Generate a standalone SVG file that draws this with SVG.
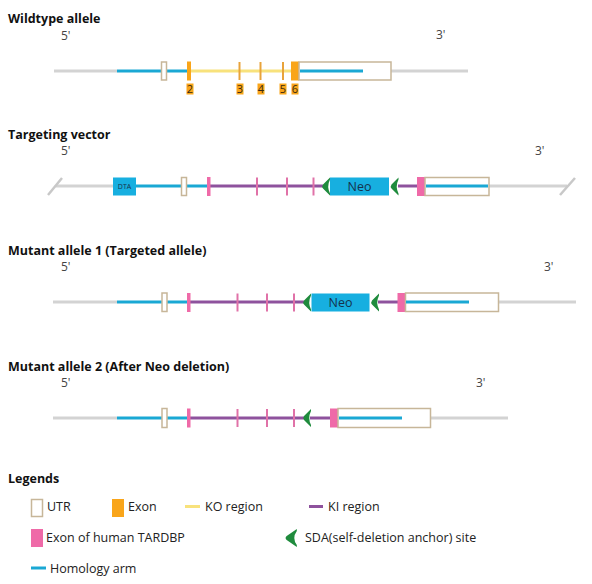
<svg xmlns="http://www.w3.org/2000/svg" width="592" height="584" viewBox="0 0 592 584">
<style>
text{font-family:"Open Sans","Noto Sans","Liberation Sans",sans-serif;}
.title{font-size:12.5px;font-weight:bold;fill:#111;}
.end{font-size:12px;fill:#444;}
.lg{font-size:12.5px;fill:#222;}
.gray{stroke:#d3d3d3;stroke-width:3;fill:none;}
.blue{stroke:#1aa8d4;stroke-width:3;fill:none;}
.yel{stroke:#f8e27c;stroke-width:3;fill:none;}
.pur{stroke:#8e529d;stroke-width:3;fill:none;}
.utr{fill:#fff;stroke:#c7b699;stroke-width:1.5;}
.exon{fill:#f9a51a;}
.tick{stroke:#e8a33a;stroke-width:2;}
.pink{fill:#ef6aa8;}
.ptick{stroke:#e072a8;stroke-width:2;}
.sda{fill:#1f8b3d;}
.neo{fill:#17afe0;}
.lab{font-size:11px;fill:#3a2a10;}
.neot{font-size:12.5px;fill:#15324d;}
</style>
<defs>
<path id="chev" d="M8.5,0 L1.5,7 Q0,9 1.5,11 L8.5,18 L8.5,16 Q5,9 8.5,2 Z"/>
</defs>

<!-- Titles -->
<g id="titles">
<text class="title" x="8" y="23">Wildtype allele</text>
<text class="end" x="61" y="40">5'</text>
<text class="end" x="436" y="39">3'</text>
<text class="title" x="8" y="139">Targeting vector</text>
<text class="end" x="61" y="155">5'</text>
<text class="end" x="535" y="155">3'</text>
<text class="title" x="8" y="255">Mutant allele 1 (Targeted allele)</text>
<text class="end" x="61" y="271">5'</text>
<text class="end" x="544" y="271">3'</text>
<text class="title" x="8" y="371">Mutant allele 2 (After Neo deletion)</text>
<text class="end" x="61" y="387">5'</text>
<text class="end" x="476" y="387">3'</text>
</g>

<!-- Connectors: backbone lines -->
<g id="connectors">
<!-- wildtype -->
<line class="gray" x1="54" y1="71" x2="117" y2="71"/>
<line class="blue" x1="117" y1="71" x2="188" y2="71"/>
<line class="yel" x1="190" y1="71" x2="292" y2="71"/>
<line class="gray" x1="362" y1="71" x2="468" y2="71"/>
<line class="blue" x1="299" y1="71" x2="363" y2="71"/>
<!-- vector -->
<line class="gray" x1="56" y1="186" x2="113" y2="186"/>
<line class="blue" x1="136" y1="186" x2="207" y2="186"/>
<line class="pur" x1="210" y1="186" x2="323" y2="186"/>
<line class="pur" x1="398" y1="186" x2="417" y2="186"/>
<line class="gray" x1="489" y1="186" x2="567" y2="186"/>
<line class="blue" x1="425" y1="186" x2="489" y2="186"/>
<!-- mutant 1 -->
<line class="gray" x1="53" y1="302" x2="117" y2="302"/>
<line class="blue" x1="117" y1="302" x2="187" y2="302"/>
<line class="pur" x1="190" y1="302" x2="304" y2="302"/>
<line class="pur" x1="378" y1="302" x2="398" y2="302"/>
<line class="gray" x1="469" y1="302" x2="576" y2="302"/>
<line class="blue" x1="405" y1="302" x2="469" y2="302"/>
<!-- mutant 2 -->
<line class="gray" x1="53" y1="418" x2="117" y2="418"/>
<line class="blue" x1="117" y1="418" x2="187" y2="418"/>
<line class="pur" x1="190" y1="418" x2="304" y2="418"/>
<line class="pur" x1="310" y1="418" x2="331" y2="418"/>
<line class="gray" x1="402" y1="418" x2="508" y2="418"/>
<line class="blue" x1="337" y1="418" x2="402" y2="418"/>
</g>

<!-- Wildtype nodes -->
<g id="wt-utr5"><rect class="utr" x="161.5" y="62" width="5" height="18"/></g>
<g id="wt-exon2"><rect class="exon" x="187" y="61.5" width="4" height="19"/>
<rect class="exon" x="186.5" y="83.5" width="7" height="11"/><text class="lab" x="190" y="93" text-anchor="middle">2</text></g>
<g id="wt-exon3"><line class="tick" x1="239.5" y1="62" x2="239.5" y2="80"/>
<rect class="exon" x="236.5" y="83.5" width="7" height="11"/><text class="lab" x="240" y="93" text-anchor="middle">3</text></g>
<g id="wt-exon4"><line class="tick" x1="260.5" y1="62" x2="260.5" y2="80"/>
<rect class="exon" x="257.5" y="83.5" width="7" height="11"/><text class="lab" x="261" y="93" text-anchor="middle">4</text></g>
<g id="wt-exon5"><line class="tick" x1="283" y1="62" x2="283" y2="80"/>
<rect class="exon" x="279.5" y="83.5" width="7" height="11"/><text class="lab" x="283" y="93" text-anchor="middle">5</text></g>
<g id="wt-exon6"><rect class="exon" x="291" y="61.5" width="8" height="19"/>
<rect class="exon" x="291.5" y="83.5" width="7" height="11"/><text class="lab" x="295" y="93" text-anchor="middle">6</text></g>
<g id="wt-utr3"><rect class="utr" x="299" y="62" width="92" height="18"/><line class="blue" x1="300" y1="71" x2="363" y2="71"/></g>

<!-- Targeting vector nodes -->
<g id="tv-break-l"><line x1="48" y1="195" x2="62" y2="178" stroke="#c8c8c8" stroke-width="2.5"/></g>
<g id="tv-dta"><rect class="neo" x="113" y="177.5" width="23" height="18"/><text x="124.5" y="189" font-size="7px" fill="#15324d" text-anchor="middle">DTA</text></g>
<g id="tv-utr5"><rect class="utr" x="181.5" y="177.5" width="5" height="18"/></g>
<g id="tv-hexon1"><rect class="pink" x="207" y="177" width="3.5" height="19"/></g>
<g id="tv-hexon2"><line class="ptick" x1="257" y1="177.5" x2="257" y2="195.5"/></g>
<g id="tv-hexon3"><line class="ptick" x1="287" y1="177.5" x2="287" y2="195.5"/></g>
<g id="tv-hexon4"><line class="ptick" x1="313.5" y1="177.5" x2="313.5" y2="195.5"/></g>
<g id="tv-sda1"><use href="#chev" class="sda" x="321.5" y="177.5"/></g>
<g id="tv-neo"><rect class="neo" x="330" y="177.5" width="59" height="18"/><text class="neot" x="359.5" y="190.5" text-anchor="middle">Neo</text></g>
<g id="tv-sda2"><use href="#chev" class="sda" x="390" y="177.5"/></g>
<g id="tv-hexon5"><rect class="pink" x="417" y="177" width="8" height="19"/></g>
<g id="tv-utr3"><rect class="utr" x="425" y="177.5" width="64" height="18"/><line class="blue" x1="426" y1="186" x2="488" y2="186"/></g>
<g id="tv-break-r"><line x1="560" y1="195" x2="575" y2="178" stroke="#c8c8c8" stroke-width="2.5"/></g>

<!-- Mutant allele 1 nodes -->
<g id="m1-utr5"><rect class="utr" x="162" y="293" width="5" height="18.5"/></g>
<g id="m1-hexon1"><rect class="pink" x="187" y="293" width="3.5" height="19"/></g>
<g id="m1-hexon2"><line class="ptick" x1="237.5" y1="293.5" x2="237.5" y2="311.5"/></g>
<g id="m1-hexon3"><line class="ptick" x1="267" y1="293.5" x2="267" y2="311.5"/></g>
<g id="m1-hexon4"><line class="ptick" x1="294" y1="293.5" x2="294" y2="311.5"/></g>
<g id="m1-sda1"><use href="#chev" class="sda" x="302.5" y="293.5"/></g>
<g id="m1-neo"><rect class="neo" x="311.5" y="293.5" width="58" height="18"/><text class="neot" x="340.5" y="306.5" text-anchor="middle">Neo</text></g>
<g id="m1-sda2"><use href="#chev" class="sda" x="370.5" y="293.5"/></g>
<g id="m1-hexon5"><rect class="pink" x="397.5" y="293" width="8" height="19"/></g>
<g id="m1-utr3"><rect class="utr" x="405.5" y="293" width="93" height="18.5"/><line class="blue" x1="406" y1="302" x2="469" y2="302"/></g>

<!-- Mutant allele 2 nodes -->
<g id="m2-utr5"><rect class="utr" x="162" y="408.5" width="5" height="19"/></g>
<g id="m2-hexon1"><rect class="pink" x="187" y="408.5" width="3.5" height="19"/></g>
<g id="m2-hexon2"><line class="ptick" x1="237.5" y1="409" x2="237.5" y2="427"/></g>
<g id="m2-hexon3"><line class="ptick" x1="267" y1="409" x2="267" y2="427"/></g>
<g id="m2-hexon4"><line class="ptick" x1="294" y1="409" x2="294" y2="427"/></g>
<g id="m2-sda"><use href="#chev" class="sda" x="302.5" y="409"/></g>
<g id="m2-hexon5"><rect class="pink" x="330" y="408.5" width="8" height="19"/></g>
<g id="m2-utr3"><rect class="utr" x="338" y="408.5" width="92.5" height="19"/><line class="blue" x1="339" y1="418" x2="402" y2="418"/></g>

<!-- Legend -->
<g id="legend">
<text class="title" x="8" y="483">Legends</text>
<rect class="utr" x="31.5" y="499.5" width="11" height="17"/>
<text class="lg" x="47" y="511">UTR</text>
<rect class="exon" x="112" y="499" width="12" height="18"/>
<text class="lg" x="128" y="511">Exon</text>
<line class="yel" x1="185" y1="506.5" x2="200" y2="506.5"/>
<text class="lg" x="205" y="511">KO region</text>
<line class="pur" x1="309" y1="506.5" x2="323" y2="506.5"/>
<text class="lg" x="328" y="511">KI region</text>
<rect class="pink" x="31" y="529" width="12" height="18"/>
<text class="lg" x="46" y="542">Exon of human TARDBP</text>
<use href="#chev" class="sda" transform="translate(284.5 529) scale(1.45 1)"/>
<text class="lg" x="305" y="542">SDA(self-deletion anchor) site</text>
<line class="blue" x1="31" y1="568" x2="46" y2="568"/>
<text class="lg" x="50" y="572.5">Homology arm</text>
</g>
</svg>
